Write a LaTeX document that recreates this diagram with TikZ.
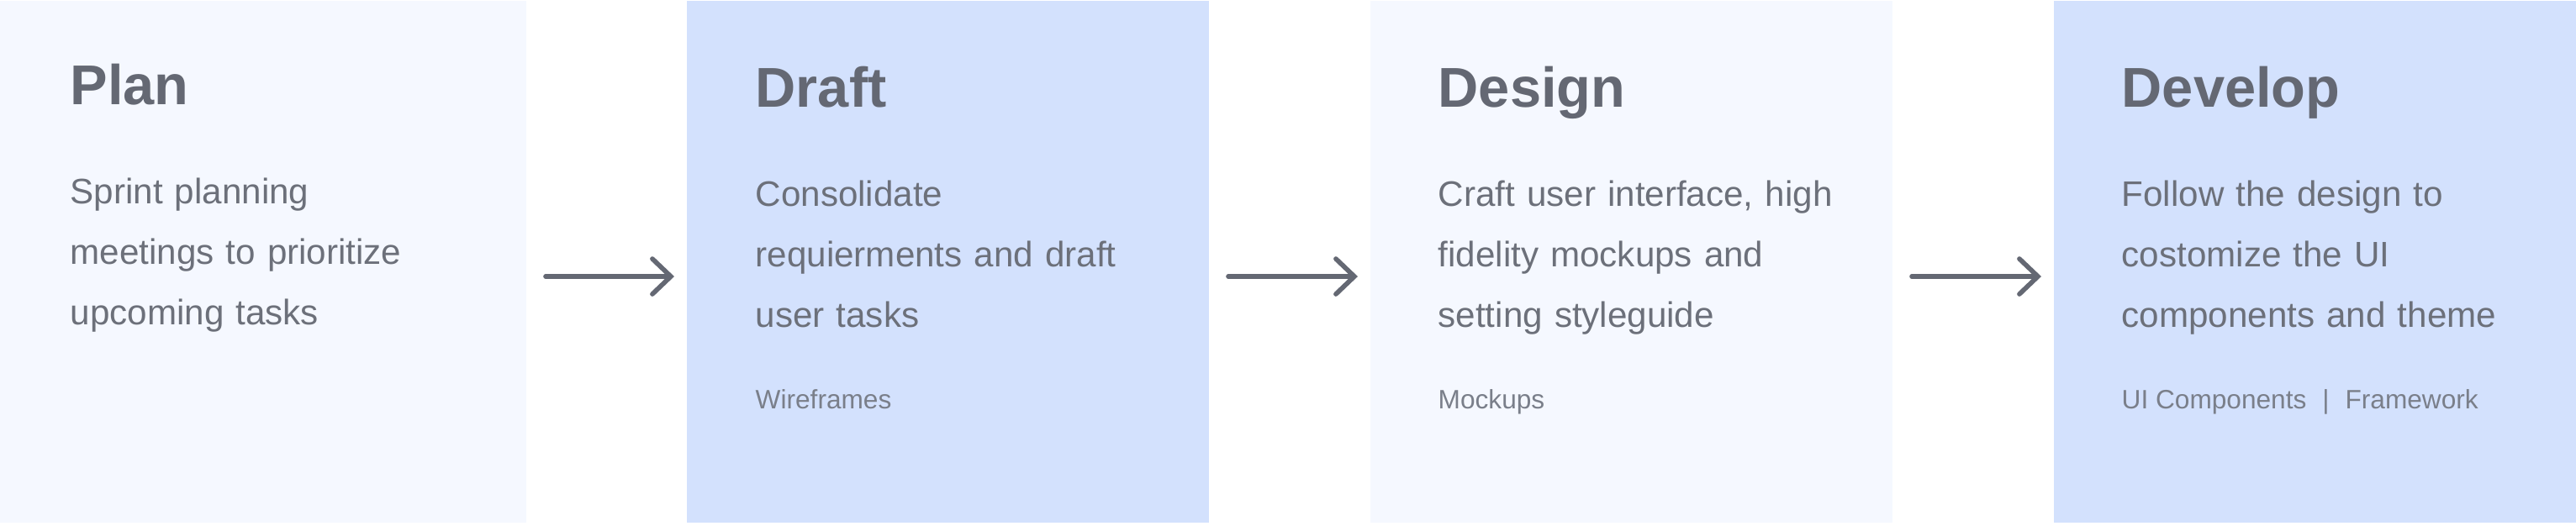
\documentclass[tikz,border=0pt]{standalone}
\usepackage{fontspec}
\setmainfont{Liberation Sans}
\usetikzlibrary{arrows.meta, positioning}
\definecolor{inkgray}{HTML}{646873}
\definecolor{softgray}{HTML}{6C707A}
\definecolor{taggray}{HTML}{7A7F8A}
\definecolor{palefill}{HTML}{F5F8FF}
\definecolor{bluefill}{HTML}{D3E1FD}

\begin{document}
\begin{tikzpicture}[
  stage/.style={rectangle, anchor=north west, minimum width=6.21cm, minimum height=6.21cm, inner sep=0, outer sep=0},
  heading/.style={anchor=base west, inner sep=0, text=inkgray, font=\fontsize{19}{23}\selectfont\bfseries},
  blurb/.style={anchor=base west, inner sep=0, text=softgray, text width=5.4cm, align=left, font=\fontsize{12}{20.6}\selectfont},
  tag/.style={anchor=base west, inner sep=0, text=taggray, font=\fontsize{9}{11}\selectfont},
  flow/.style={draw=inkgray, line width=1.6pt, line cap=round, -{Straight Barb[length=0.22cm, width=0.42cm, line cap=round]}}
]
\useasboundingbox (0,0) rectangle (30.64,6.25);

% the four stages
\node[stage, fill=palefill, minimum width=6.26cm] (plan) at (0,6.24) {};
\node[stage, fill=bluefill] (draft) at (8.17,6.24) {};
\node[stage, fill=palefill] (design) at (16.30,6.24) {};
\node[stage, fill=bluefill] (develop) at (24.43,6.24) {};

\node[heading] (plan-title) at ([shift={(0.83,-1.23)}]plan.north west) {Plan};
\node[blurb] (plan-text) at ([shift={(0.83,-2.41)}]plan.north west) {Sprint planning\\meetings to prioritize\\upcoming tasks};

\node[heading] (draft-title) at ([shift={(0.81,-1.26)}]draft.north west) {Draft};
\node[blurb] (draft-text) at ([shift={(0.81,-2.44)}]draft.north west) {Consolidate\\requierments and draft\\user tasks};
\node[tag] (draft-tag) at ([shift={(0.81,-4.85)}]draft.north west) {Wireframes};

\node[heading] (design-title) at ([shift={(0.80,-1.26)}]design.north west) {Design};
\node[blurb] (design-text) at ([shift={(0.80,-2.44)}]design.north west) {Craft user interface, high\\fidelity mockups and\\setting styleguide};
\node[tag] (design-tag) at ([shift={(0.80,-4.85)}]design.north west) {Mockups};

\node[heading] (develop-title) at ([shift={(0.80,-1.26)}]develop.north west) {Develop};
\node[blurb] (develop-text) at ([shift={(0.80,-2.44)}]develop.north west) {Follow the design to\\costomize the UI\\components and theme};
\node[tag] (develop-tag) at ([shift={(0.80,-4.85)}]develop.north west) {UI Components\hspace{0.6em}|\hspace{0.6em}Framework};

% arrows between stages
\foreach \a/\b in {plan/draft, draft/design, design/develop}
  \draw[flow] ([shift={(0.23,-0.175)}]\a.east) -- ([shift={(-0.15,-0.175)}]\b.west);

\end{tikzpicture}
\end{document}
